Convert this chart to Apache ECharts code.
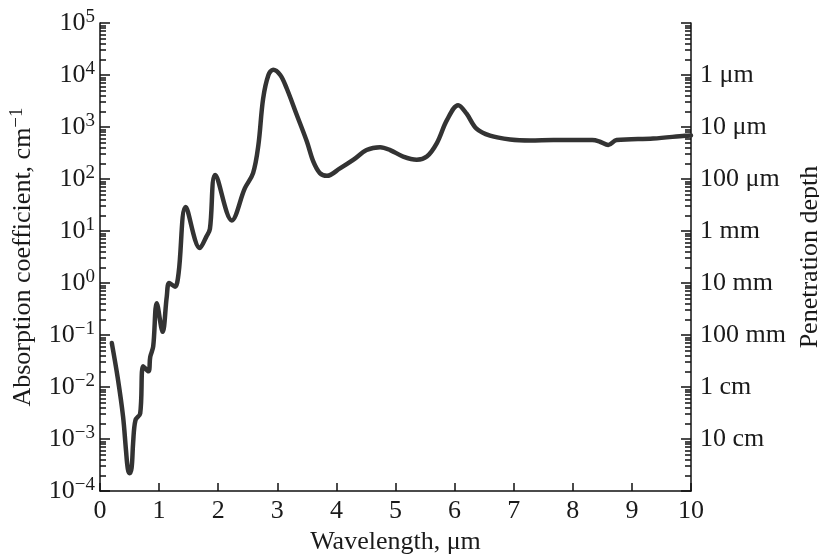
<!DOCTYPE html>
<html>
<head>
<meta charset="utf-8">
<script src="https://cdn.jsdelivr.net/npm/echarts@6/dist/echarts.min.js"></script>
<style>
  html, body { margin: 0; padding: 0; background: #ffffff; }
  #chart { width: 819px; height: 558px; }
</style>
</head>
<body>
<div id="chart"></div>
<script>
// Absorption spectrum of liquid water, 0.2–10 µm
const wavelength = [
  0.20, 0.30, 0.39, 0.44, 0.47, 0.50, 0.535, 0.56, 0.60, 0.68, 0.73,
  0.82, 0.85, 0.90, 0.96, 1.06, 1.13, 1.17, 1.27, 1.33, 1.45,
  1.69, 1.80, 1.86, 1.95, 2.23, 2.45, 2.59, 2.68, 2.76, 2.85,
  2.93, 3.05, 3.16, 3.33, 3.50, 3.61, 3.72, 3.84, 4.06, 4.29,
  4.51, 4.74, 4.91, 5.13, 5.36, 5.53, 5.70, 5.87, 6.06, 6.20,
  6.37, 6.60, 6.94, 7.28, 7.67, 8.33, 8.46, 8.60, 8.74, 9.36,
  9.90, 10.0
];
const absorption = [
  0.07, 0.015, 0.0027, 0.0006, 0.00027, 0.00022, 0.00028, 0.00083, 0.0023, 0.0031, 0.025,
  0.02, 0.038, 0.06, 0.41, 0.115, 0.55, 1.0, 0.85, 1.55, 29,
  4.7, 7.8, 11, 120, 16, 66, 130, 450, 3500, 10000,
  12600, 10000, 5500, 1700, 525, 215, 130, 115, 160, 235,
  360, 410, 360, 270, 235, 270, 490, 1350, 2630, 1820,
  930, 680, 575, 550, 560, 560, 520, 450, 560, 600,
  680, 690
];

// Axis ticks and labels
const decades = [1e-4, 1e-3, 1e-2, 1e-1, 1e0, 1e1, 1e2, 1e3, 1e4, 1e5];
const minorSteps = [2, 3, 4, 5, 6, 7, 8, 9];
const depthValues = [1e-3, 1e-2, 1e-1, 1e0, 1e1, 1e2, 1e3, 1e4];
const depthLabels = ['10 cm', '1 cm', '100 mm', '10 mm', '1 mm', '100 μm', '10 μm', '1 μm'];

const minorValues = [];
decades.slice(0, -1).forEach(d => minorSteps.forEach(k => minorValues.push(k * d)));

const FONT = 'Liberation Serif';
const INK = '#1a1a1a';
const SIZE = 26;
const SUP = 19;
const lineStyle = { color: '#111', width: 1.5 };

function powerLabel(v) {
  const e = Math.round(Math.log10(v));
  return '10{e|' + (e < 0 ? '\u2212' + (-e) : e) + '}';
}
function depthLabel(v) {
  const i = depthValues.findIndex(d => Math.abs(Math.log10(d) - Math.log10(v)) < 1e-6);
  return i >= 0 ? depthLabels[i] : '';
}

function logAxis(extra) {
  return Object.assign({
    type: 'log',
    logBase: 10,
    min: 1e-4,
    max: 1e5,
    splitLine: { show: false },
    minorTick: { show: false }
  }, extra);
}

const chart = echarts.init(document.getElementById('chart'), null, { renderer: 'canvas' });

chart.setOption({
  animation: false,
  backgroundColor: '#ffffff',
  grid: { left: 100, right: 128, top: 23, bottom: 67, containLabel: false, outerBoundsMode: 'none' },
  xAxis: {
    type: 'value',
    min: 0,
    max: 10,
    interval: 1,
    splitLine: { show: false },
    axisLine: { show: true, lineStyle: lineStyle },
    axisTick: { show: true, inside: true, length: 8, lineStyle: lineStyle },
    axisLabel: { fontFamily: FONT, fontSize: SIZE, color: INK, margin: 7 },
    name: 'Wavelength, μm',
    nameLocation: 'middle',
    nameGap: 37,
    nameTextStyle: { fontFamily: FONT, fontSize: SIZE, color: INK }
  },
  yAxis: [
    logAxis({
      position: 'left',
      axisLine: { show: true, lineStyle: lineStyle },
      axisTick: { show: true, inside: true, length: 10, customValues: decades, lineStyle: lineStyle },
      axisLabel: {
        customValues: decades,
        formatter: powerLabel,
        fontFamily: FONT, fontSize: SIZE, color: INK, margin: 5, lineHeight: 30,
        rich: { e: { fontFamily: FONT, fontSize: SUP, color: INK, verticalAlign: 'top', lineHeight: SUP } }
      },
      name: 'Absorption coefficient, cm{s|\u22121}',
      nameLocation: 'middle',
      nameGap: 54,
      nameRotate: 90,
      nameTextStyle: {
        fontFamily: FONT, fontSize: SIZE, color: INK, lineHeight: 30,
        rich: { s: { fontFamily: FONT, fontSize: SUP, color: INK, verticalAlign: 'top', lineHeight: SUP } }
      }
    }),
    logAxis({
      position: 'left',
      axisLine: { show: false },
      axisTick: { show: true, inside: true, length: 6, customValues: minorValues, lineStyle: lineStyle },
      axisLabel: { show: false }
    }),
    logAxis({
      position: 'right',
      axisLine: { show: true, lineStyle: lineStyle },
      axisTick: { show: true, inside: true, length: 10, customValues: decades, lineStyle: lineStyle },
      axisLabel: {
        customValues: depthValues,
        formatter: depthLabel,
        fontFamily: FONT, fontSize: SIZE, color: INK, margin: 9
      },
      name: 'Penetration depth',
      nameLocation: 'middle',
      nameGap: 97,
      nameRotate: 90,
      nameTextStyle: { fontFamily: FONT, fontSize: SIZE, color: INK }
    }),
    logAxis({
      position: 'right',
      axisLine: { show: false },
      axisTick: { show: true, inside: true, length: 6, customValues: minorValues, lineStyle: lineStyle },
      axisLabel: { show: false }
    })
  ],
  series: [{
    type: 'line',
    xAxisIndex: 0,
    yAxisIndex: 0,
    data: wavelength.map((w, i) => [w, absorption[i]]),
    smooth: 0.35,
    showSymbol: false,
    symbol: 'none',
    lineStyle: { color: '#333333', width: 4.5, cap: 'round', join: 'round' }
  }]
});
</script>
</body>
</html>
